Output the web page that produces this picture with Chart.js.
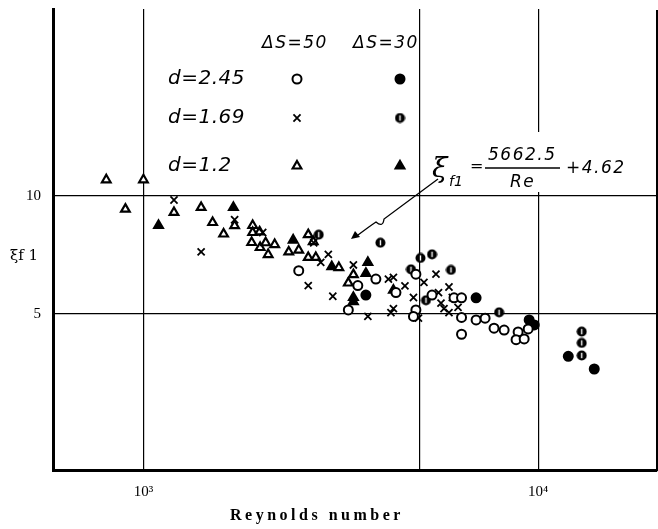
<!DOCTYPE html>
<html>
<head>
<meta charset="utf-8">
<script src="https://cdn.jsdelivr.net/npm/chart.js@4.4.1/dist/chart.umd.min.js"></script>
<style>
    html, body { margin: 0; padding: 0; background: #fff; }
    #wrap { width: 658px; height: 529px; }
</style>
</head>
<body>
<div id="wrap"><canvas id="myChart" width="658" height="529"></canvas></div>
<script>
// Data: [Reynolds number, xi_f1]
const d245_s50 = [[2474, 6.45], [3304, 5.12], [3492, 5.91], [3880, 6.14], [4900, 6.32], [4362, 5.67],
    [5383, 5.59], [4900, 5.12], [4831, 4.93], [6121, 5.5], [6395, 5.5], [6395, 4.9], [6962, 4.83],
    [7337, 4.88], [6395, 4.44], [7730, 4.6], [8199, 4.55], [8896, 4.5], [8790, 4.3], [9215, 4.32], [9433, 4.58]];
const d245_s30 = [[3660, 5.59], [6962, 5.5], [9488, 4.83], [9774, 4.69], [11920, 3.9], [13870, 3.62]];
const d169_s50 = [[1195, 9.77], [1702, 8.7], [1400, 7.2], [2005, 8.07], [2700, 7.6], [2940, 7.1],
    [2813, 6.77], [2615, 5.91], [3018, 5.55], [3403, 6.67], [3703, 4.93], [4174, 6.14], [4298, 6.2],
    [4597, 5.9], [4298, 5.16], [4236, 5.04], [4831, 5.51], [5136, 6.02], [5509, 6.32], [5591, 5.67],
    [5673, 5.33], [5943, 5.86], [6060, 5.51], [5773, 5.16], [5943, 5.04], [6266, 5.2], [4831, 4.93], [4974, 4.88]];
const d169_s30 = [[2780, 7.97], [3984, 7.6], [5032, 6.95], [5383, 7.1], [4761, 6.5], [6013, 6.48],
    [5196, 5.42], [7962, 5.05], [12890, 4.51], [12890, 4.22], [12890, 3.92]];
const d12_s50 = [[805, 11.0], [1000, 11.0], [900, 9.26], [1195, 9.08], [1400, 9.35], [1497, 8.56],
    [1596, 8.0], [1702, 8.4], [1891, 8.41], [1891, 8.07], [1880, 7.61], [1969, 8.1], [1975, 7.39],
    [2040, 7.6], [2070, 7.09], [2150, 7.52], [2334, 7.2], [2474, 7.28], [2615, 7.97], [2692, 7.65],
    [2615, 6.97], [2733, 6.97], [3126, 6.57], [3403, 6.3], [3304, 6.0]];
const d12_s30 = [[1092, 8.41], [1690, 9.35], [2395, 7.72], [3000, 6.6], [3703, 6.77], [3660, 6.35],
    [3403, 5.51], [3403, 5.38], [4298, 5.75]];

const xTicks = [1000, 5000, 10000];
const xTickLabels = { 1000: '10\u00B3', 10000: '10\u2074' };
const yTicks = [5, 10];
const rowLabels = ['d=2.45', 'd=1.69', 'd=1.2'];
const colLabels = ['\u0394S=50', '\u0394S=30'];

// circle with a white bar inside (d=1.69, dS=30)
function halfDot() {
    const c = document.createElement('canvas');
    c.width = 11; c.height = 11;
    const g = c.getContext('2d');
    g.fillStyle = '#000';
    g.beginPath(); g.arc(5.5, 5.5, 5, 0, Math.PI * 2); g.fill();
    g.strokeStyle = '#fff'; g.lineWidth = 1.4;
    g.beginPath(); g.moveTo(5.5, 2.8); g.lineTo(5.5, 8.2); g.stroke();
    return c;
}
const halfDotImg = halfDot();

function toPts(arr) { return arr.map(p => ({ x: p[0], y: p[1] })); }

const styles = [
    { data: d245_s50, pointStyle: 'circle', bg: '#fff', r: 4.5, bw: 2 },
    { data: d245_s30, pointStyle: 'circle', bg: '#000', r: 4.5, bw: 2 },
    { data: d169_s50, pointStyle: 'crossRot', bg: '#000', r: 5, bw: 1.8 },
    { data: d169_s30, pointStyle: halfDotImg, bg: '#000', r: 5, bw: 1 },
    { data: d12_s50, pointStyle: 'triangle', bg: '#fff', r: 5, bw: 2.2 },
    { data: d12_s30, pointStyle: 'triangle', bg: '#000', r: 5, bw: 2.2 }
];

const overlay = {
    id: 'overlay',
    afterDraw(chart) {
        const ctx = chart.ctx;
        const area = chart.chartArea;
        ctx.save();
        // right frame line
        ctx.strokeStyle = '#000';
        ctx.lineWidth = 2;
        ctx.beginPath();
        ctx.moveTo(area.right, 10); ctx.lineTo(area.right, area.bottom + 1);
        ctx.stroke();

        // legend table
        ctx.fillStyle = '#000';
        ctx.textBaseline = 'middle';
        ctx.textAlign = 'left';
        ctx.font = 'italic 17px "DejaVu Sans"';
        ctx.letterSpacing = '1.5px';
        ctx.fillText(colLabels[0], 262, 44);
        ctx.fillText(colLabels[1], 353, 44);
        ctx.font = 'italic 20px "DejaVu Sans"';
        ctx.letterSpacing = '0.5px';
        const rowY = [79, 118, 166];
        rowLabels.forEach((t, i) => ctx.fillText(t, 168, rowY[i]));
        ctx.letterSpacing = '0px';
        const markers = [[0, 1], [2, 3], [4, 5]];
        markers.forEach((pair, i) => {
            pair.forEach((si, j) => {
                const s = styles[si];
                const x = j === 0 ? 297 : 400;
                const opts = { pointStyle: s.pointStyle, radius: s.r, borderWidth: s.bw, rotation: 0 };
                ctx.fillStyle = s.bg;
                ctx.strokeStyle = '#000';
                ctx.lineWidth = s.bw;
                Chart.helpers.drawPoint(ctx, opts, x, rowY[i]);
            });
        });

        // formula annotation (the grid line is broken behind it)
        const gx = chart.scales.x.getPixelForValue(10000);
        ctx.fillStyle = '#fff';
        ctx.fillRect(gx - 2, 132, 4, 60);
        ctx.fillStyle = '#000';
        ctx.font = 'italic 28px "DejaVu Serif"';
        ctx.fillText('\u03BE', 432, 170);
        ctx.font = 'italic 14px "DejaVu Sans"';
        ctx.fillText('f1', 449, 182);
        ctx.font = '16px "DejaVu Sans"';
        ctx.fillText('=', 470, 167);
        ctx.font = 'italic 17px "DejaVu Sans"';
        ctx.letterSpacing = '1.5px';
        ctx.fillText('5662.5', 488, 156);
        ctx.fillText('Re', 510, 183);
        ctx.fillText('+4.62', 566, 169);
        ctx.letterSpacing = '0px';
        ctx.lineWidth = 1.3;
        ctx.beginPath(); ctx.moveTo(485, 168); ctx.lineTo(560, 168); ctx.stroke();
        // wavy arrow
        ctx.beginPath();
        ctx.moveTo(438, 179);
        ctx.lineTo(384, 219);
        ctx.quadraticCurveTo(383, 228, 376, 222);
        ctx.quadraticCurveTo(370, 226, 358, 235);
        ctx.stroke();
        ctx.beginPath();
        ctx.moveTo(351, 239); ctx.lineTo(355, 231); ctx.lineTo(360, 237); ctx.closePath();
        ctx.fill();

        // axis titles
        ctx.font = '15px "DejaVu Serif"';
        ctx.fillText('\u03BEf 1', 10, 256);
        ctx.font = 'bold 16px "Liberation Serif"';
        ctx.letterSpacing = '3.5px';
        ctx.fillText('Reynolds number', 230, 516);
        ctx.restore();
    }
};

const chart = new Chart(document.getElementById('myChart').getContext('2d'), {
    type: 'scatter',
    data: {
        datasets: styles.map((s, i) => ({
            label: 'series ' + i,
            data: toPts(s.data),
            pointStyle: s.pointStyle,
            pointRadius: s.r,
            pointHoverRadius: s.r,
            pointBorderWidth: s.bw,
            pointBackgroundColor: s.bg,
            pointBorderColor: '#000'
        }))
    },
    options: {
        responsive: false,
        animation: false,
        layout: { autoPadding: false, padding: { top: 9, right: 1, left: 0, bottom: 0 } },
        plugins: { legend: { display: false }, tooltip: { enabled: false } },
        scales: {
            x: {
                type: 'logarithmic',
                min: 590, max: 20000,
                afterBuildTicks: scale => { scale.ticks = xTicks.map(v => ({ value: v })); },
                afterFit: scale => { scale.height = 59; scale.paddingLeft = 0; scale.paddingRight = 0; },
                grid: { color: '#000', lineWidth: 1.2, drawTicks: false },
                border: { color: '#000', width: 3 },
                ticks: {
                    autoSkip: false, maxRotation: 0, padding: 13, color: '#000',
                    font: { family: '"Liberation Serif"', size: 15 },
                    callback: v => xTickLabels[v] || ''
                }
            },
            y: {
                type: 'logarithmic',
                min: 2, max: 30,
                afterBuildTicks: scale => { scale.ticks = yTicks.map(v => ({ value: v })); },
                afterFit: scale => { scale.width = 53; scale.paddingTop = 0; scale.paddingBottom = 0; },
                grid: { color: '#000', lineWidth: 1.2, drawTicks: false },
                border: { color: '#000', width: 3 },
                ticks: {
                    autoSkip: false, padding: 12, color: '#000',
                    font: { family: '"Liberation Serif"', size: 15 },
                    callback: v => String(v)
                }
            }
        }
    },
    plugins: [overlay]
});
</script>
</body>
</html>
